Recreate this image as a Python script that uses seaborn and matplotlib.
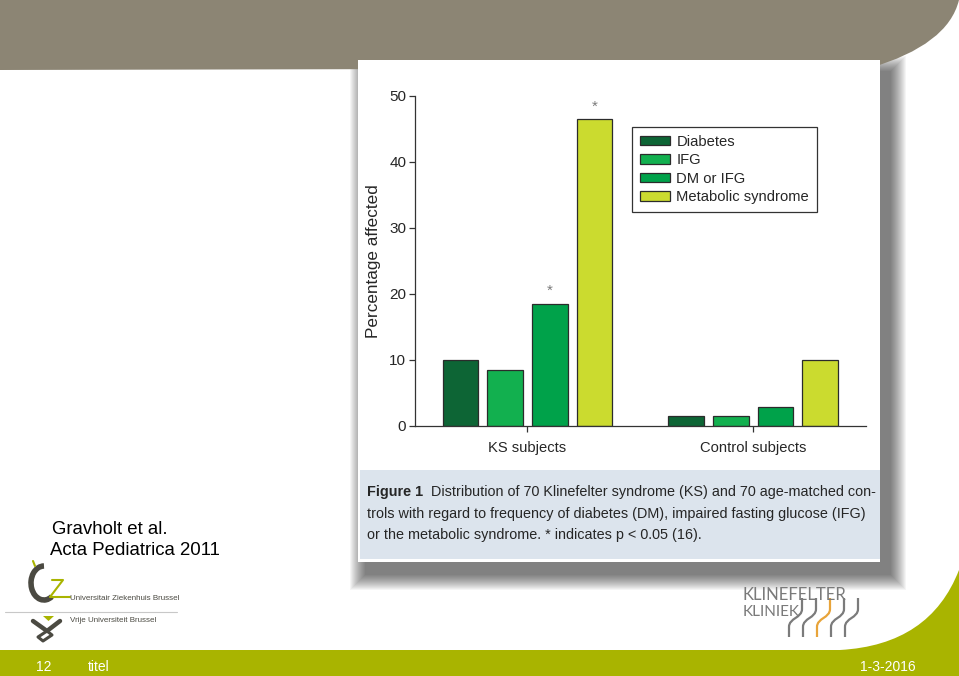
import numpy as np
import pandas as pd
import matplotlib
matplotlib.use('Agg')
import matplotlib.pyplot as plt
import seaborn as sns
from matplotlib.patches import Rectangle, PathPatch, Polygon, Arc
from matplotlib.path import Path

# --- data ---
groups = ['KS subjects', 'Control subjects']
measures = ['Diabetes', 'IFG', 'DM or IFG', 'Metabolic syndrome']
diabetes = [10.0, 1.4]
ifg = [8.5, 1.4]
dm_or_ifg = [18.5, 2.9]
metabolic = [46.5, 10.0]
starred = [('KS subjects', 'DM or IFG'), ('KS subjects', 'Metabolic syndrome')]
yticks = [0, 10, 20, 30, 40, 50]

caption_lines = [
    'trols with regard to frequency of diabetes (DM), impaired fasting glucose (IFG)',
    'or the metabolic syndrome. * indicates p < 0.05 (16).',
]

colors = ['#0d6535', '#12b04f', '#00a24a', '#cbdb2f']
olive = '#a9b400'
taupe = '#8c8574'
darkgray = '#4b4a42'

df = pd.DataFrame({
    'group': groups * len(measures),
    'measure': np.repeat(measures, len(groups)),
    'pct': diabetes + ifg + dm_or_ifg + metabolic,
})

sns.set_style('ticks')
plt.rcParams['font.family'] = ['Liberation Sans', 'DejaVu Sans']

fig = plt.figure(figsize=(9.59, 6.76), dpi=100)

# --- slide background (pixel coords) ---
bg = fig.add_axes([0, 0, 1, 1])
bg.set_xlim(0, 959)
bg.set_ylim(676, 0)
bg.axis('off')

# drop shadow of the pasted figure (offset down/right, soft edge)
for s in range(16, 0, -1):
    bg.add_patch(Rectangle((366 - s, 72 - s), 524 + 2 * s, 502 + 2 * s,
                           facecolor='k', alpha=0.04, lw=0))

# top band
top = Path([(0, 0), (959, 0), (948, 45), (870, 68), (0, 70), (0, 0)],
           [Path.MOVETO, Path.LINETO, Path.CURVE3, Path.CURVE3, Path.LINETO, Path.CLOSEPOLY])
bg.add_patch(PathPatch(top, facecolor=taupe, lw=0))

# figure panel + caption box
bg.add_patch(Rectangle((358, 60), 522, 502, facecolor='white', lw=0))
bg.add_patch(Rectangle((360, 470), 520, 89, facecolor='#dce4ed', lw=0))

# bottom band
bot = Path([(0, 650), (840, 650), (930, 645), (959, 570), (959, 676), (0, 676), (0, 650)],
           [Path.MOVETO, Path.LINETO, Path.CURVE3, Path.CURVE3, Path.LINETO, Path.LINETO, Path.CLOSEPOLY])
bg.add_patch(PathPatch(bot, facecolor=olive, lw=0))

# caption
cap_size = 10.4
t0 = bg.text(367, 496, 'Figure 1', fontsize=cap_size, fontweight='bold',
             color='#262626', va='baseline')
bg.annotate('  Distribution of 70 Klinefelter syndrome (KS) and 70 age-matched con-',
            xy=(1, 0), xycoords=t0, va='bottom', ha='left', fontsize=cap_size,
            color='#262626')
for i, line in enumerate(caption_lines):
    bg.text(367, 518 + 21.5 * i, line, fontsize=cap_size, color='#262626', va='baseline')

# reference text
bg.text(52, 534, 'Gravholt et al.', fontsize=13.4, color='black', va='baseline')
bg.text(50, 555, 'Acta Pediatrica 2011', fontsize=13.4, color='black', va='baseline')

# UZ Brussel / VUB logos
bg.add_patch(Arc((44, 583), 26, 34, theta1=60, theta2=270, lw=4, color=darkgray))
bg.plot([52, 63, 50, 70], [580, 580, 597, 597], color=olive, lw=1.5)
bg.plot([33, 35], [561, 566], color=olive, lw=1.5)
bg.text(70, 599, 'Universitair Ziekenhuis Brussel', fontsize=5.8, color=darkgray, va='center')
bg.plot([5, 177], [611.5, 611.5], color='#c8c8c8', lw=0.8)
bg.add_patch(Polygon([(43, 616), (54, 616), (48.5, 621)], facecolor=olive, lw=0))
bg.plot([33, 47, 60], [621, 631, 621], color=darkgray, lw=3.2, solid_capstyle='round')
bg.plot([47, 38, 43, 52, 47], [631, 637, 641, 635, 631], color=darkgray, lw=2.2)
bg.text(70, 621, 'Vrije Universiteit Brussel', fontsize=5.8, color=darkgray, va='center')

# Klinefelter Kliniek logo
bg.text(743, 600.5, 'KLINEFELTER', fontsize=12, family=['Lato', 'DejaVu Sans'],
        color='#7a7a7a', va='baseline')
bg.text(743, 616.5, 'KLINIEK', fontsize=11, family=['Lato', 'DejaVu Sans'],
        color='#7a7a7a', va='baseline')
strand_colors = ['#7b7b7b', '#7b7b7b', '#e8a43a', '#7b7b7b', '#7b7b7b']
for x0, c in zip([802, 816, 830, 844, 858], strand_colors):
    p = Path([(x0, 598), (x0, 609), (x0, 618), (x0 - 13, 618), (x0 - 13, 627), (x0 - 13, 637)],
             [Path.MOVETO, Path.LINETO, Path.CURVE4, Path.CURVE4, Path.CURVE4, Path.LINETO])
    bg.add_patch(PathPatch(p, facecolor='none', edgecolor=c, lw=1.6))

# footer
bg.text(36, 667, '12', fontsize=10, color='white', va='center')
bg.text(88, 667, 'titel', fontsize=10, color='white', va='center')
bg.text(916, 667, '1-3-2016', fontsize=10, color='white', va='center', ha='right')

# --- the bar chart ---
ax = fig.add_axes([0.4324, 0.3703, 0.4706, 0.4877])
ax.set_facecolor('none')
sns.barplot(data=df, x='group', y='pct', hue='measure', order=groups, hue_order=measures,
            palette=colors, saturation=1, width=0.79, gap=0.2,
            edgecolor='#2b2b2b', linewidth=0.9, ax=ax)

ax.set_xlim(-0.5, 1.5)
ax.set_ylim(0, 50)
ax.set_yticks(yticks)
ax.set_xlabel('')
ax.set_ylabel('Percentage affected', fontsize=12.3, color='#262626')
ax.yaxis.set_label_coords(-0.075, 0.5)
sns.despine(ax=ax)
for sp in ['left', 'bottom']:
    ax.spines[sp].set_linewidth(0.9)
    ax.spines[sp].set_color('#333333')
ax.tick_params(axis='both', length=4, width=0.9, color='#333333', labelcolor='#262626')
ax.tick_params(axis='x', labelsize=10.6, pad=7)
ax.tick_params(axis='y', labelsize=11, pad=2)

for grp, meas in starred:
    bar = ax.containers[measures.index(meas)][groups.index(grp)]
    ax.text(bar.get_x() + bar.get_width() / 2, bar.get_height() + 1.3, '*',
            ha='center', va='baseline', fontsize=11, color='#7a7a7a')

sns.move_legend(ax, 'upper left', bbox_to_anchor=(632.3 / 959, 1 - 126.7 / 676),
                bbox_transform=fig.transFigure, title=None, frameon=True, fancybox=False,
                fontsize=10.6, labelspacing=0.3, handlelength=2.0, handleheight=0.63,
                handletextpad=0.45, borderpad=0.55, borderaxespad=0)
leg = ax.get_legend()
leg.get_frame().set_edgecolor('#333333')
leg.get_frame().set_linewidth(0.9)
leg.get_frame().set_facecolor('white')
leg.get_frame().set_alpha(1)
for h in leg.legend_handles:
    h.set_edgecolor('#2b2b2b')
    h.set_linewidth(0.9)
for t in leg.get_texts():
    t.set_color('#262626')

fig.savefig('out.png', dpi=100)
